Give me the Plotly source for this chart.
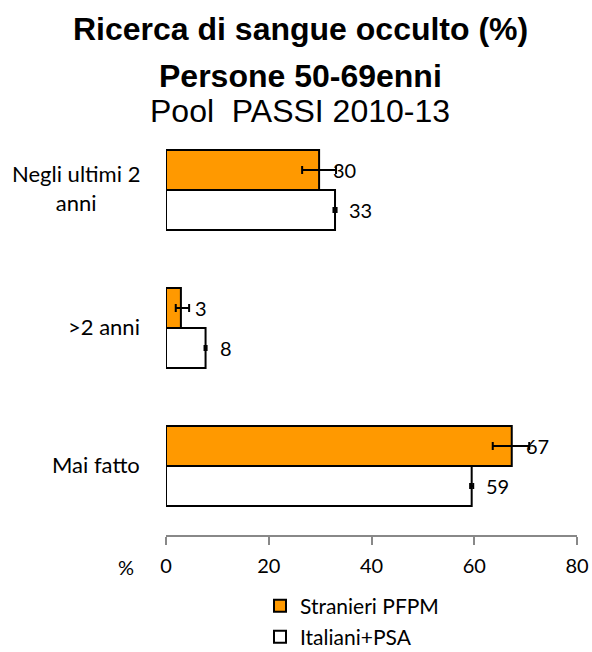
import plotly.graph_objects as go

categories = ["Negli ultimi 2<br>anni", ">2 anni", "Mai fatto"]
stranieri = [29.8, 2.9, 67.3]
stranieri_lo = [26.5, 1.9, 63.6]
stranieri_hi = [33.1, 4.5, 70.7]
italiani = [32.9, 7.7, 59.5]
italiani_lo = [32.6, 7.5, 59.2]
italiani_hi = [33.2, 7.9, 59.8]
labels_s = ["30", "3", "67"]
labels_i = ["33", "8", "59"]
x_ticks = [0, 20, 40, 60, 80]
title_lines = ["<b>Ricerca di sangue occulto (%)</b>", "<b>Persone 50-69enni</b>", "Pool  PASSI 2010-13"]

W, H = 592, 652
PL, PR, PT, PB = 166, 577, 121, 535
PW, PH = PR - PL, PB - PT


def py(p):
    return (PB - p) / PH


def px(p):
    return (p - PL) / PW


fig = go.Figure()
fig.add_trace(go.Bar(
    y=categories, x=stranieri, orientation="h", name="Stranieri PFPM",
    marker=dict(color="#FF9900", line=dict(color="black", width=2)),
    error_x=dict(type="data", symmetric=False,
                 array=[h - v for h, v in zip(stranieri_hi, stranieri)],
                 arrayminus=[v - l for v, l in zip(stranieri, stranieri_lo)],
                 color="black", thickness=2, width=4),
    legend="legend", showlegend=True,
))
fig.add_trace(go.Bar(
    y=categories, x=italiani, orientation="h", name="Italiani+PSA",
    marker=dict(color="white", line=dict(color="black", width=2)),
    error_x=dict(type="data", symmetric=False,
                 array=[h - v for h, v in zip(italiani_hi, italiani)],
                 arrayminus=[v - l for v, l in zip(italiani, italiani_lo)],
                 color="black", thickness=2, width=3),
    legend="legend2", showlegend=True,
))

FONT = "Lato, Open Sans, sans-serif"
lab_font = dict(family=FONT, size=20, color="black")
for c, v, t in zip(categories, stranieri, labels_s):
    fig.add_annotation(x=v, y=c, text=t, showarrow=False, xanchor="left",
                       xshift=12, yshift=20, font=lab_font)
for c, v, t in zip(categories, italiani, labels_i):
    fig.add_annotation(x=v, y=c, text=t, showarrow=False, xanchor="left",
                       xshift=12, yshift=-20, font=lab_font)

# category labels (centered multi-line)
for c in categories:
    fig.add_annotation(x=0, y=c, xref="paper", text=c, showarrow=False,
                       xanchor="right", yanchor="middle", align="center",
                       xshift=-24, yshift=2, font=dict(family=FONT, size=22, color="black"))

fig.add_annotation(x=0, y=0, xref="paper", yref="paper", text="%",
                   showarrow=False, xanchor="right", yanchor="middle",
                   xshift=-30, yshift=-32, font=lab_font)

for t, p in zip(title_lines, [29, 76, 111]):
    fig.add_annotation(x=px(300), y=py(p), xref="paper", yref="paper", text=t,
                       showarrow=False, xanchor="center", yanchor="middle",
                       font=dict(family="Liberation Sans, Arial, sans-serif", size=32, color="black"))

fig.update_layout(
    width=W, height=H,
    margin=dict(l=PL, r=W - PR, t=PT, b=H - PB, autoexpand=False),
    paper_bgcolor="white", plot_bgcolor="white",
    barmode="group", bargap=0.42, bargroupgap=0,
    showlegend=True,
    xaxis=dict(range=[0, 80], tickvals=x_ticks, showgrid=False, zeroline=False,
               showline=True, linecolor="#888", linewidth=1.5,
               ticks="outside", ticklen=8, tickcolor="#888", tickwidth=1.5,
               ticklabelstandoff=4, automargin=False,
               tickfont=dict(family=FONT, size=20, color="black")),
    yaxis=dict(autorange="reversed", showgrid=False, showline=False, ticks="",
               showticklabels=False, automargin=False),
    legend=dict(x=px(260), y=py(606), xanchor="left", yanchor="middle",
                font=dict(family=FONT, size=21, color="black"),
                bgcolor="rgba(0,0,0,0)", itemwidth=30),
    legend2=dict(x=px(260), y=py(637), xanchor="left", yanchor="middle",
                 font=dict(family=FONT, size=21, color="black"),
                 bgcolor="rgba(0,0,0,0)", itemwidth=30),
)

fig.write_html(
    "out.html",
    config={"displayModeBar": False},
    post_script="document.body.style.margin='0';document.body.style.overflow='hidden';",
)
